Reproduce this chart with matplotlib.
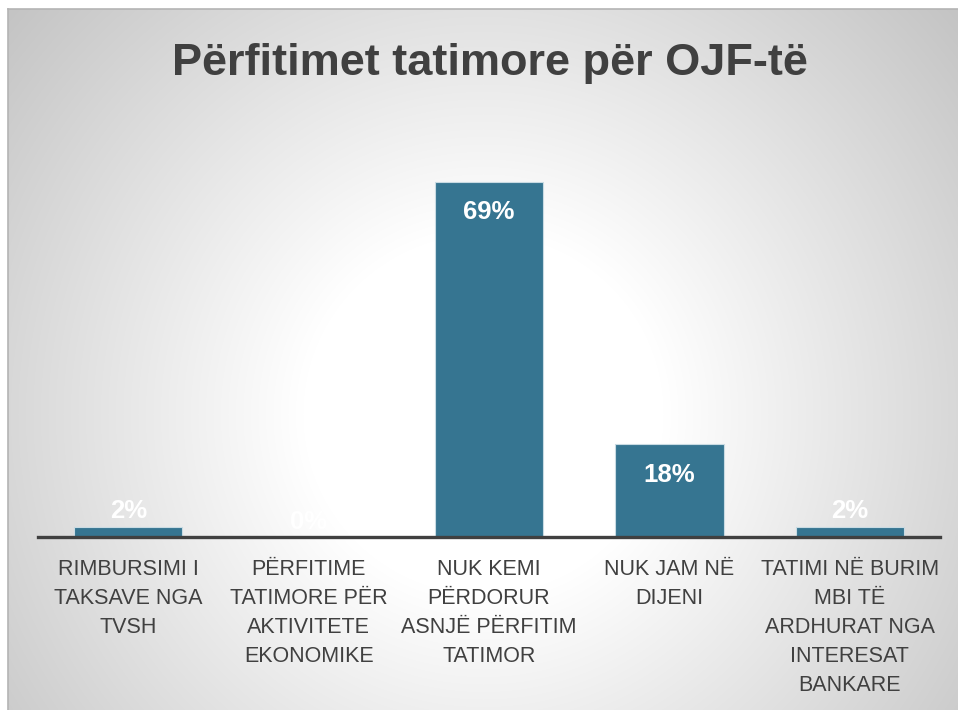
#!/usr/bin/env python3

import numpy as np
import matplotlib.pyplot as plt

# data
categories = ["RIMBURSIMI I\nTAKSAVE NGA\nTVSH",
              "PËRFITIME\nTATIMORE PËR\nAKTIVITETE\nEKONOMIKE",
              "NUK KEMI\nPËRDORUR\nASNJË PËRFITIM\nTATIMOR",
              "NUK JAM NË\nDIJENI",
              "TATIMI NË BURIM\nMBI TË\nARDHURAT NGA\nINTERESAT\nBANKARE"]
values = [2, 0, 69, 18, 2]
title = "Përfitimet tatimore për OJF-të"

bar_color = "#367591"
text_color = "#404040"

plt.rcParams['font.family'] = ['Liberation Sans', 'DejaVu Sans']

fig = plt.figure(figsize=(9.58, 7.10), dpi=100)
fig.patch.set_facecolor("white")

# radial gradient background
bg = fig.add_axes([8/958, 0, 950/958, 701/710])
h, w = 701, 950
yy, xx = np.mgrid[0:h, 0:w]
cx, cy = 475, 405
r = np.sqrt((xx-cx)**2 + (yy-cy)**2)
t = np.clip((r-180)/(660-180), 0, 1)
g = 255 - 64*t
img = np.dstack([g, g, g]).astype(np.uint8)
bg.imshow(img, aspect="auto", interpolation="bilinear")
bg.set_xticks([]); bg.set_yticks([])
for s in ["right", "bottom"]:
    bg.spines[s].set_visible(False)
for s in ["top", "left"]:
    bg.spines[s].set_color("#b4b4b4")
    bg.spines[s].set_linewidth(1.2)

fig.text(0.511, 1-63/710, title, ha="center", va="center", fontsize=32.5,
         fontweight="bold", color=text_color)

ax = fig.add_axes([38/958, 173/710, 902/958, 412/710])
ax.patch.set_alpha(0)
x = np.arange(len(categories))
bars = ax.bar(x, values, width=0.6, color=bar_color, edgecolor="#c9dbe3",
              linewidth=0.8, zorder=2)
ax.set_xlim(-0.5, 4.5)
ax.set_ylim(0, 80)
ax.set_yticks([])
for s in ["top", "right", "left"]:
    ax.spines[s].set_visible(False)
ax.spines["bottom"].set_color(text_color)
ax.spines["bottom"].set_linewidth(2.4)
ax.spines["bottom"].set_zorder(3)
ax.set_xticks(x)
ax.set_xticklabels(categories, fontsize=15.5, color=text_color, va="top",
                   linespacing=1.5)
ax.tick_params(axis="x", length=0, pad=16)

for xi, v in zip(x, values):
    if v > 10:
        ax.annotate(f"{v}%", (xi, v), xytext=(0, -22), textcoords="offset points",
                    ha="center", va="center", color="white", fontsize=18.5,
                    fontweight="bold")
    else:
        ax.annotate(f"{v}%", (xi, v), xytext=(0, 11), textcoords="offset points",
                    ha="center", va="center", color="white", fontsize=18.5,
                    fontweight="bold")

plt.savefig("out.png", dpi=100)
